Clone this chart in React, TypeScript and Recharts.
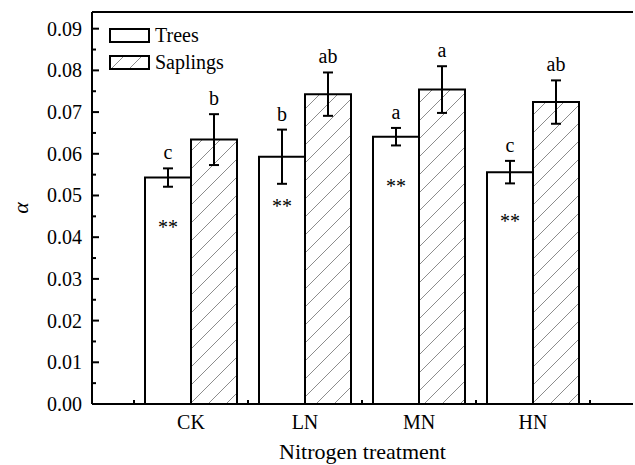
import { BarChart, Bar, XAxis, YAxis, ErrorBar, LabelList, ReferenceLine, Legend } from "recharts";

const categories = ["CK", "LN", "MN", "HN"];
const seriesNames = ["Trees", "Saplings"];
const treesMean = [0.0543, 0.0593, 0.0641, 0.0556];
const treesErr = [0.0022, 0.0065, 0.0021, 0.0027];
const saplingsMean = [0.0634, 0.0743, 0.0754, 0.0724];
const saplingsErr = [0.0061, 0.0052, 0.0056, 0.0052];
const treesLetters = ["c", "b", "a", "c"];
const saplingsLetters = ["b", "ab", "a", "ab"];
const treesSig = ["**", "**", "**", "**"];
const yTicks = [
  0, 0.005, 0.01, 0.015, 0.02, 0.025, 0.03, 0.035, 0.04, 0.045, 0.05, 0.055, 0.06, 0.065, 0.07, 0.075, 0.08,
  0.085, 0.09,
];

const data = categories.map((c, i) => ({
  category: c,
  trees: treesMean[i],
  treesErr: treesErr[i],
  saplings: saplingsMean[i],
  saplingsErr: saplingsErr[i],
}));

const FONT = "Liberation Serif, Times New Roman, Times, DejaVu Serif, serif";
const textStyle = { fontFamily: FONT };

const HatchDef = ({ id }: { id: string }) => (
  <defs>
    <pattern id={id} patternUnits="userSpaceOnUse" width={18} height={18}>
      <rect width={18} height={18} fill="#fff" />
      <path d="M0,18 L18,0 M-4.5,4.5 L4.5,-4.5 M13.5,22.5 L22.5,13.5" stroke="#8c8c8c" strokeWidth={1} />
    </pattern>
  </defs>
);

const XTick = (props: any) => {
  const { x, y, payload, index } = props;
  const off = payload?.offset ?? 57;
  return (
    <g>
      <line x1={x - off} x2={x - off} y1={y} y2={y - 4} stroke="#000" strokeWidth={2} />
      {index === categories.length - 1 && (
        <line x1={x + off} x2={x + off} y1={y} y2={y - 4} stroke="#000" strokeWidth={2} />
      )}
      <text x={x} y={y + 25} textAnchor="middle" style={textStyle} fontSize={20} fill="#000">
        {payload.value}
      </text>
    </g>
  );
};

const YTick = (props: any) => {
  const { x, y, payload } = props;
  const v = payload.value as number;
  const major = Math.abs(v * 100 - Math.round(v * 100)) < 1e-6;
  const ax = x + 10;
  return (
    <g>
      <line x1={ax} x2={ax + (major ? 7 : 4)} y1={y} y2={y} stroke="#000" strokeWidth={2} />
      {major && (
        <text x={x} y={y} dy="0.35em" textAnchor="end" style={textStyle} fontSize={20} fill="#000">
          {v.toFixed(2)}
        </text>
      )}
    </g>
  );
};

const letterLabel = (letters: string[], means: number[], errs: number[]) => (props: any) => {
  const { x, y, width, height, index } = props;
  const errPx = (errs[index] / means[index]) * height;
  return (
    <text x={x + width / 2} y={y - errPx - 9} textAnchor="middle" style={textStyle} fontSize={20} fill="#000">
      {letters[index]}
    </text>
  );
};

const sigLabel = (props: any) => {
  const { x, y, width, index } = props;
  return (
    <text x={x + width / 2} y={y + 56} textAnchor="middle" style={textStyle} fontSize={20} fill="#000">
      {treesSig[index]}
    </text>
  );
};

const LegendBox = () => (
  <svg width={300} height={80} style={{ position: "absolute", left: 0, top: 0 }}>
    <HatchDef id="hatchLegend" />
    <rect x={110} y={29} width={39} height={13} fill="#fff" stroke="#000" strokeWidth={2} />
    <text x={155} y={42} style={textStyle} fontSize={20} fill="#000">
      {seriesNames[0]}
    </text>
    <rect x={110} y={56} width={39} height={13} fill="url(#hatchLegend)" stroke="#000" strokeWidth={2} />
    <text x={155} y={69} style={textStyle} fontSize={20} fill="#000">
      {seriesNames[1]}
    </text>
  </svg>
);

export default function App() {
  return (
    <div style={{ position: "absolute", left: 0, top: 0, width: 635, height: 465, background: "#fff" }}>
      <BarChart
        width={635}
        height={465}
        data={data}
        margin={{ top: 12, right: 2, bottom: 0, left: 0 }}
        barGap={0}
        barSize={46}
      >
        <HatchDef id="hatch" />
        <XAxis
          dataKey="category"
          padding={{ left: 42, right: 43 }}
          height={61}
          interval={0}
          axisLine={{ stroke: "#000", strokeWidth: 2 }}
          tickLine={false}
          tickSize={0}
          tickMargin={0}
          tick={<XTick />}
          label={{
            content: (p: any) => {
              const vb = p.viewBox;
              return (
                <text x={vb.x + vb.width / 2} y={459} textAnchor="middle" style={textStyle} fontSize={22} fill="#000">
                  Nitrogen treatment
                </text>
              );
            },
          }}
        />
        <YAxis
          domain={[0, 0.094]}
          ticks={yTicks}
          interval={0}
          width={92}
          axisLine={{ stroke: "#000", strokeWidth: 2 }}
          tickLine={false}
          tickSize={0}
          tickMargin={10}
          tick={<YTick />}
          label={{
            content: (p: any) => {
              const vb = p.viewBox;
              const cy = vb.y + vb.height / 2;
              return (
                <text
                  x={28}
                  y={cy}
                  transform={`rotate(-90 28 ${cy})`}
                  textAnchor="middle"
                  style={textStyle}
                  fontStyle="italic"
                  fontSize={22}
                  fill="#000"
                >
                  α
                </text>
              );
            },
          }}
        />
        <YAxis
          yAxisId="right"
          orientation="right"
          width={0}
          tick={false}
          tickLine={false}
          axisLine={{ stroke: "#aaa", strokeWidth: 1 }}
        />
        <ReferenceLine y={0.094} stroke="#000" strokeWidth={2} />
        <Legend
          layout="horizontal"
          verticalAlign="middle"
          align="center"
          wrapperStyle={{ left: 0, top: 0, width: 300, height: 80 }}
          content={() => <LegendBox />}
        />
        <Bar dataKey="trees" name={seriesNames[0]} fill="#fff" stroke="#000" strokeWidth={2} isAnimationActive={false}>
          <ErrorBar dataKey="treesErr" width={5} stroke="#000" strokeWidth={2} isAnimationActive={false} />
          <LabelList content={letterLabel(treesLetters, treesMean, treesErr)} />
          <LabelList content={sigLabel} />
        </Bar>
        <Bar
          dataKey="saplings"
          name={seriesNames[1]}
          fill="url(#hatch)"
          stroke="#000"
          strokeWidth={2}
          isAnimationActive={false}
        >
          <ErrorBar dataKey="saplingsErr" width={5} stroke="#000" strokeWidth={2} isAnimationActive={false} />
          <LabelList content={letterLabel(saplingsLetters, saplingsMean, saplingsErr)} />
        </Bar>
      </BarChart>
    </div>
  );
}
